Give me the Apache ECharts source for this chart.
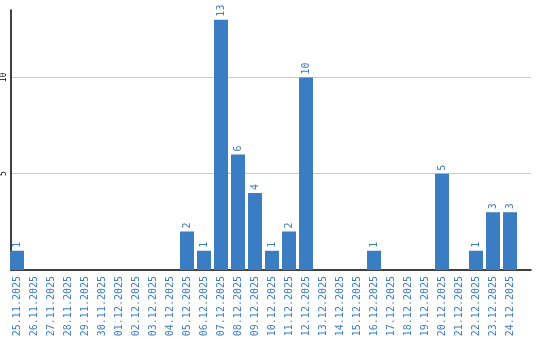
<!DOCTYPE html>
<html><head><meta charset="utf-8">
<script src="https://cdn.jsdelivr.net/npm/echarts@6/dist/echarts.min.js"></script>
<style>html,body{margin:0;padding:0;background:#fff}#c{width:540px;height:340px}</style>
</head><body><div id="c"></div>
<script>
const categories = ["25.11.2025","26.11.2025","27.11.2025","28.11.2025","29.11.2025","30.11.2025","01.12.2025","02.12.2025","03.12.2025","04.12.2025","05.12.2025","06.12.2025","07.12.2025","08.12.2025","09.12.2025","10.12.2025","11.12.2025","12.12.2025","13.12.2025","14.12.2025","15.12.2025","16.12.2025","17.12.2025","18.12.2025","19.12.2025","20.12.2025","21.12.2025","22.12.2025","23.12.2025","24.12.2025"];
const values = [1,0,0,0,0,0,0,0,0,0,2,1,13,6,4,1,2,10,0,0,0,1,0,0,0,5,0,1,3,3];
const yTicks = [0, 5, 10];
const chart = echarts.init(document.getElementById('c'));
const blue = '#3b7dc3';
chart.setOption({
  animation: false,
  grid: [
    {left: 10, width: 521, top: 10, bottom: 70},
    {left: 8.5, width: 510, top: 10, bottom: 70}
  ],
  xAxis: [
    {gridIndex: 0, type: 'category', data: categories, axisLine: {lineStyle: {color: '#000', width: 1.5}},
     axisTick: {show: false}, axisLabel: {show: false}},
    {gridIndex: 1, type: 'category', data: categories,
     axisLine: {show: false}, axisTick: {show: false},
     axisLabel: {rotate: 90, color: blue, fontFamily: 'DejaVu Sans Mono', fontSize: 10, interval: 0, margin: 6}}
  ],
  yAxis: [
    {gridIndex: 0, type: 'value', min: 0, max: 13.5, interval: 5,
     axisLine: {show: true, lineStyle: {color: '#000', width: 1.5}},
     axisTick: {show: false},
     splitLine: {lineStyle: {color: ['transparent', '#c8c8c8', '#c8c8c8', 'transparent']}},
     axisLabel: {rotate: 90, color: '#000', fontFamily: 'DejaVu Sans Mono', fontSize: 8, margin: 3, showMaxLabel: false,
       formatter: v => yTicks.indexOf(v) > 0 ? String(v) : ''}},
    {gridIndex: 1, type: 'value', min: 0, max: 13.5, interval: 5, show: false, splitLine: {show: false}}
  ],
  series: [{
    type: 'bar', data: values, xAxisIndex: 1, yAxisIndex: 1, barWidth: 14,
    itemStyle: {color: blue},
    label: {show: true, position: 'top', rotate: 90, align: 'left', verticalAlign: 'middle', distance: 3,
      color: blue, fontFamily: 'DejaVu Sans Mono', fontSize: 10,
      formatter: p => p.value === 0 ? '' : String(p.value)}
  }]
});
</script></body></html>
